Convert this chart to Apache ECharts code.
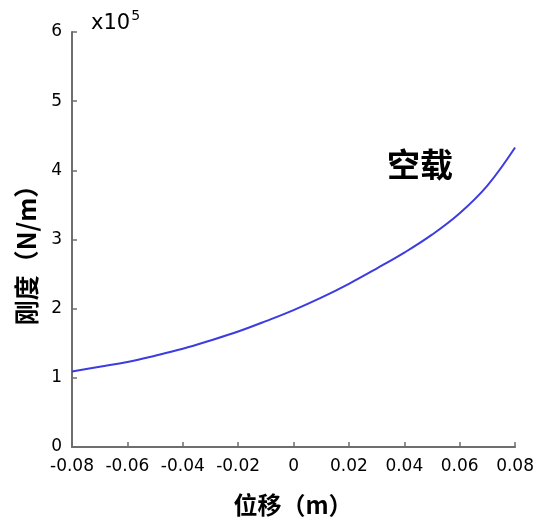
<!DOCTYPE html>
<html>
<head>
<meta charset="utf-8">
<script src="https://cdn.jsdelivr.net/npm/echarts@6/dist/echarts.min.js"></script>
<style>html,body{margin:0;padding:0;background:#fff;}#c{width:537px;height:523px;}</style>
</head>
<body>
<div id="c"></div>
<script>
const displacement = [-0.08,-0.07,-0.06,-0.05,-0.04,-0.03,-0.02,-0.01,0,0.01,0.02,0.03,0.04,0.05,0.06,0.07,0.08];
const stiffness = [1.09,1.16,1.23,1.32,1.42,1.54,1.67,1.82,1.98,2.16,2.36,2.58,2.81,3.07,3.38,3.78,4.33];
const seriesName = '空载';
const xName = '位移（m）';
const yName = '刚度（N/m）';

const chart = echarts.init(document.getElementById('c'));
const axisColor = '#6e6e6e';
const labelFont = { color: '#000', fontSize: 17, fontFamily: 'DejaVu Sans, sans-serif' };
chart.setOption({
  animation: false,
  grid: { left: 72, right: 20, top: 32, bottom: 76 },
  xAxis: {
    type: 'value', min: -0.08, max: 0.08, interval: 0.02,
    axisLine: { onZero: false, lineStyle: { color: axisColor, width: 2 } },
    axisTick: { inside: true, length: 5, lineStyle: { color: axisColor, width: 1.5 } },
    splitLine: { show: false },
    axisLabel: Object.assign({ margin: 11, formatter: v => Math.abs(v) < 1e-9 ? '0' : v.toFixed(2) }, labelFont)
  },
  yAxis: {
    type: 'value', min: 0, max: 6, interval: 1,
    axisLine: { show: true, onZero: false, lineStyle: { color: axisColor, width: 2 } },
    axisTick: { show: true, inside: true, length: 5, lineStyle: { color: axisColor, width: 1.5 } },
    splitLine: { show: false },
    axisLabel: Object.assign({ margin: 10 }, labelFont)
  },
  series: [{
    name: seriesName, type: 'line', smooth: 0.4, showSymbol: false,
    lineStyle: { color: '#3c3ce0', width: 2 },
    data: displacement.map((x, i) => [x, stiffness[i]])
  }],
  graphic: [
    { type: 'text', left: 91, top: 9, style: { rich: {
        a: { fontSize: 21, fill: '#000', fontFamily: 'DejaVu Sans, sans-serif', verticalAlign: 'bottom' },
        b: { fontSize: 14, fill: '#000', fontFamily: 'DejaVu Sans, sans-serif', verticalAlign: 'top', padding: [0,0,11,1] }
      }, text: '{a|x10}{b|5}' } },
    { type: 'text', left: 387, top: 148, style: { text: seriesName, fontSize: 33, fontWeight: 'bold', fill: '#000', fontFamily: 'Noto Sans CJK SC' } },
    { type: 'text', x: 293, y: 505, style: { text: xName, fontSize: 24, fontWeight: 'bold', fill: '#000', fontFamily: 'Noto Sans CJK SC', align: 'center', verticalAlign: 'middle' } },
    { type: 'text', x: 26, y: 249, rotation: Math.PI / 2, style: { text: yName, fontSize: 25, fontWeight: 'bold', fill: '#000', fontFamily: 'Noto Sans CJK SC', align: 'center', verticalAlign: 'middle' } }
  ]
});
</script>
</body>
</html>
